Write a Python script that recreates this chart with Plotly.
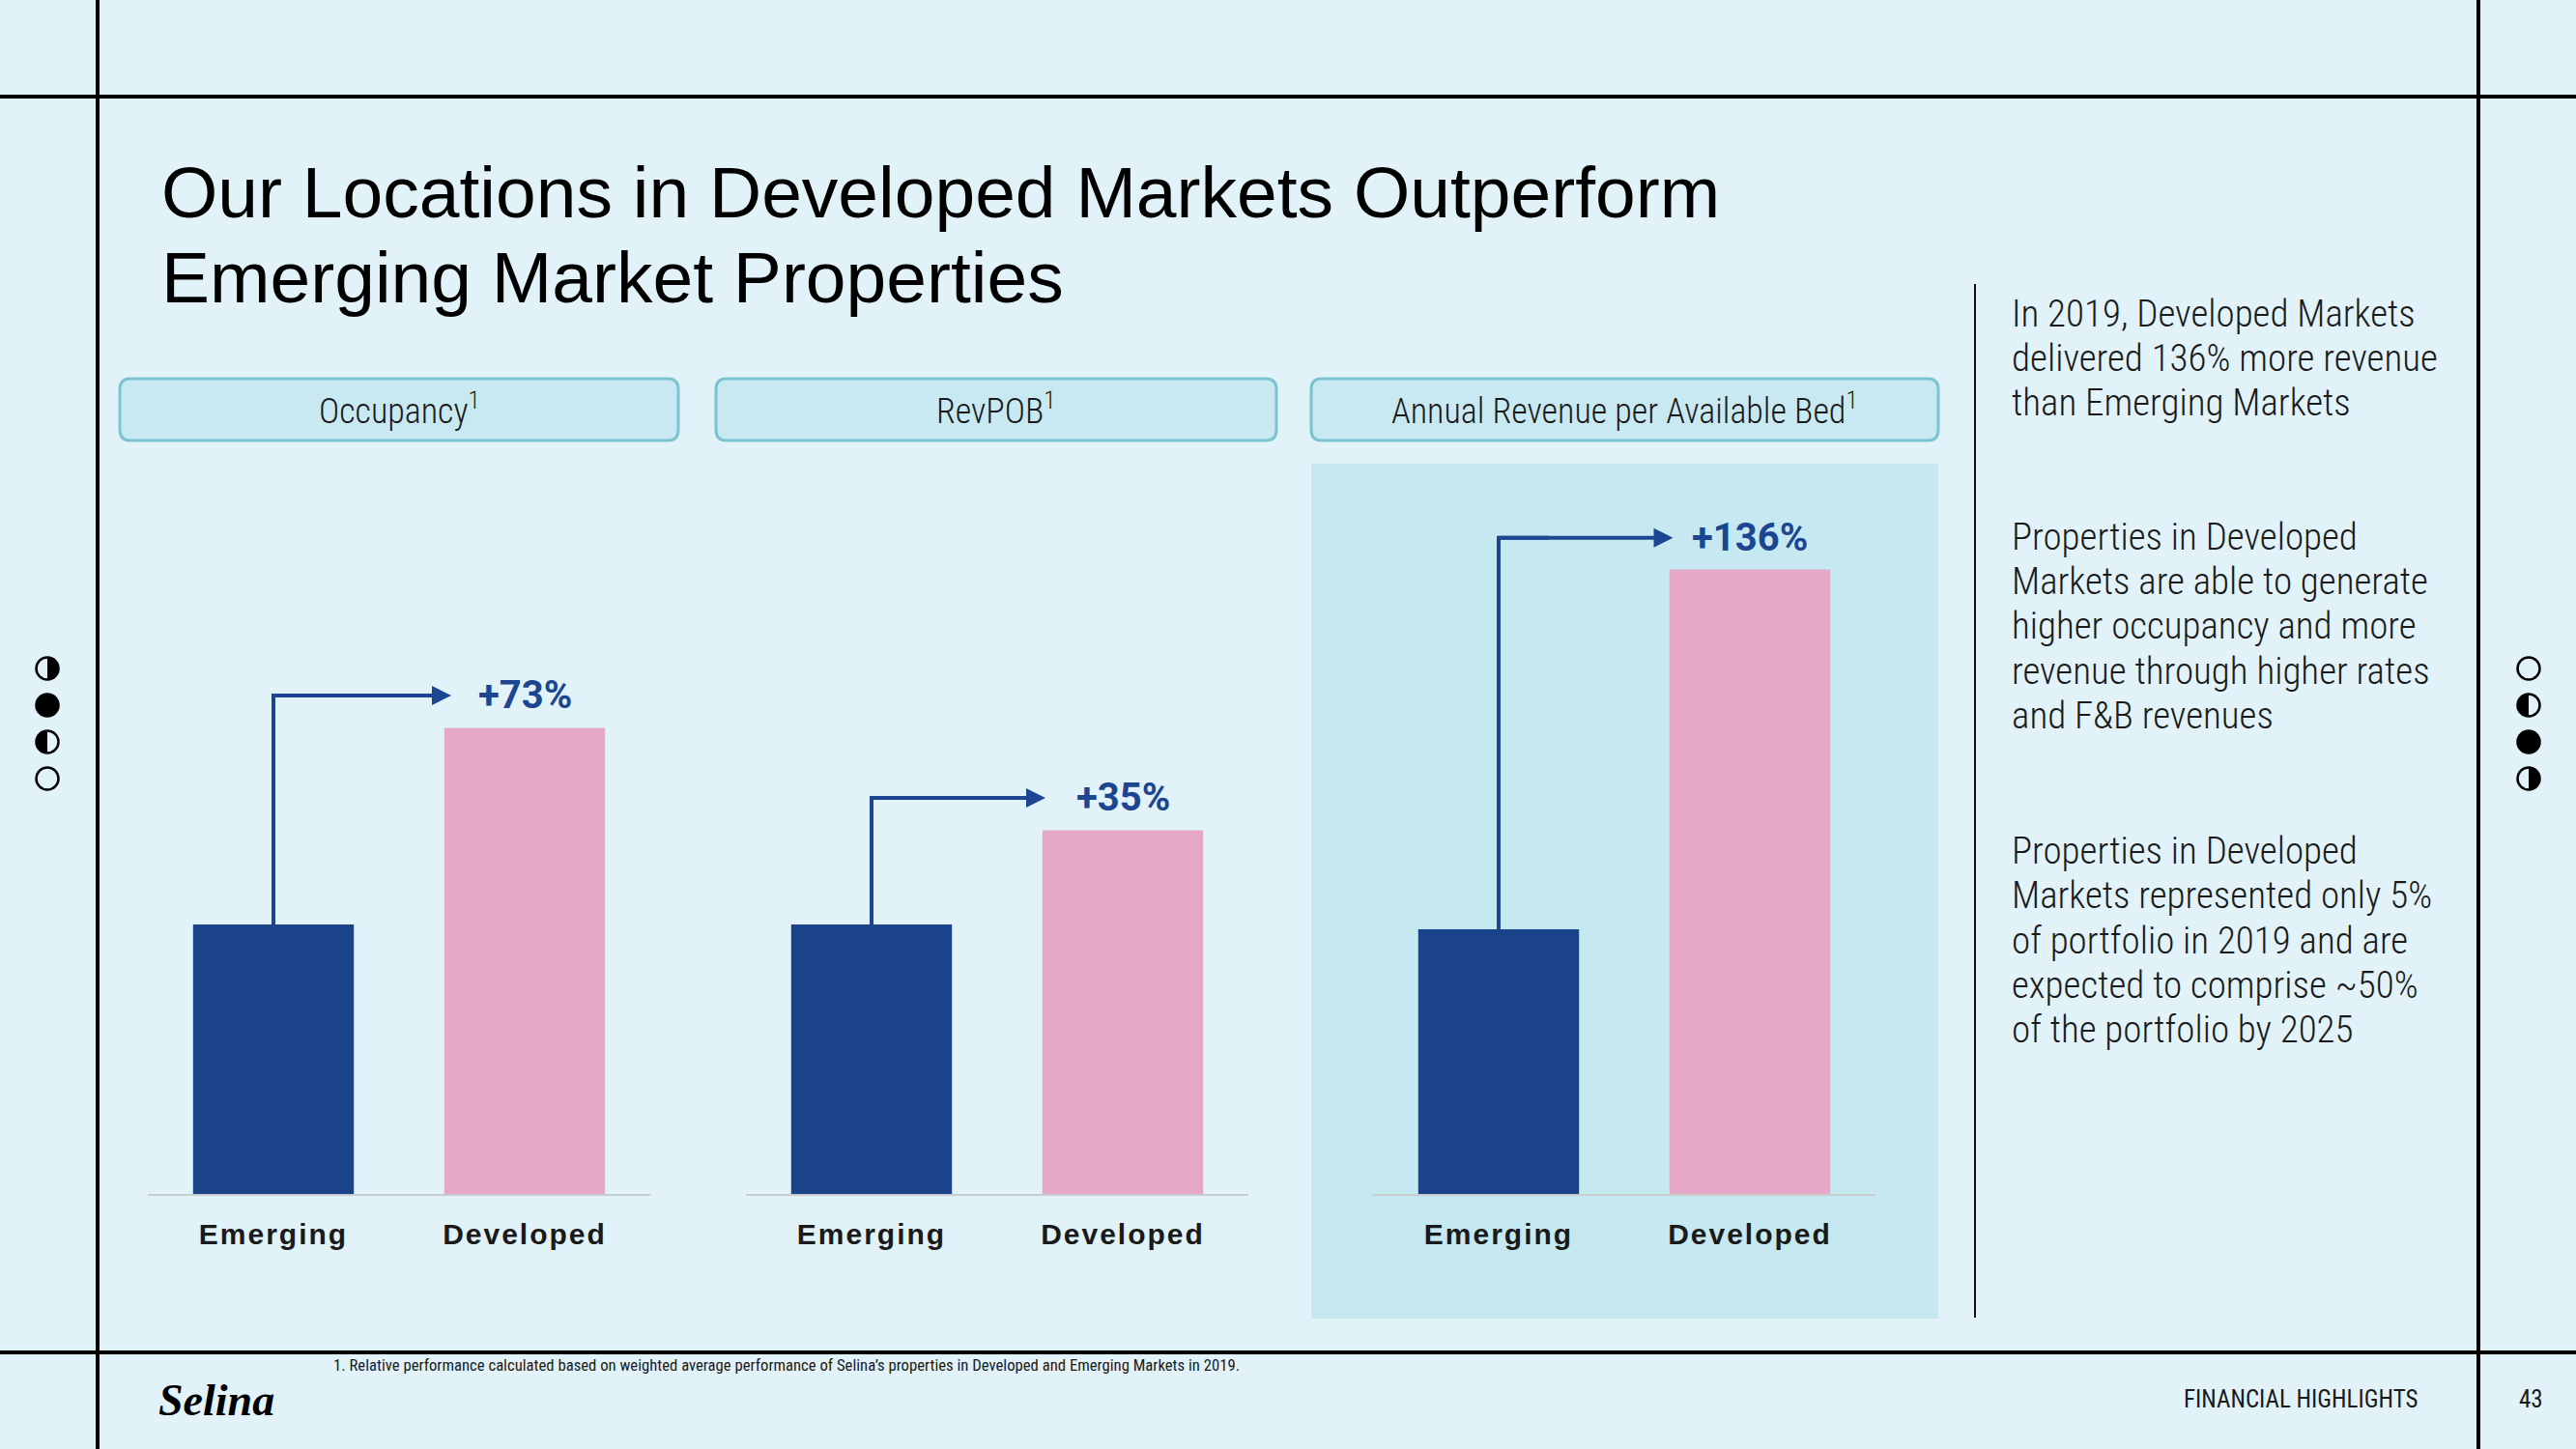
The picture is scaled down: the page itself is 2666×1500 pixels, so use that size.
import plotly.graph_objects as go

# ---------------- data ----------------
categories = ["Emerging", "Developed"]
panel_titles = ["Occupancy", "RevPOB", "Annual Revenue per Available Bed"]
# relative index values (Emerging = 100)
emerging_values = [100, 100, 100]
developed_values = [173, 135, 236]
change_labels = ["+73%", "+35%", "+136%"]

title_lines = ["Our Locations in Developed Markets Outperform", "Emerging Market Properties"]
side_paragraphs = [
    ["In 2019, Developed Markets", "delivered 136% more revenue", "than Emerging Markets"],
    ["Properties in Developed", "Markets are able to generate", "higher occupancy and more",
     "revenue through higher rates", "and F&amp;B revenues"],
    ["Properties in Developed", "Markets represented only 5%", "of portfolio in 2019 and are",
     "expected to comprise ~50%", "of the portfolio by 2025"],
]
footnote = ("1. Relative performance calculated based on weighted average performance of "
            "Selina’s properties in Developed and Emerging Markets in 2019.")
section_label = "FINANCIAL HIGHLIGHTS"
page_number = "43"
brand = "Selina"

# ---------------- style ----------------
W, H = 2666, 1500
BG = "#e1f3f8"
HILITE = "#c5e8f1"
BOX_FILL = "#c8e9f1"
BOX_LINE = "#7cc4d1"
BLUE = "#1b4389"
PINK = "#e6a8c8"
ARROW = "#1d4691"
TXT = "#1a1a1a"
COND = "Roboto Condensed, Roboto, sans-serif"


def X(px):
    return px / W


def Y(py):
    return 1 - py / H


# panel geometry in pixels
panel_x = [(153, 673), (772, 1292), (1421, 1941)]
plot_top, plot_bottom = 480, 1236
y_ranges = [271, 271, 276]
header_boxes = [(124, 702), (741, 1321), (1357, 2006)]
arrow_gaps = [26, 30, 18]
bar_w = 0.64

fig = go.Figure()
shapes = []
annotations = []

for i in range(3):
    ax_id = "" if i == 0 else str(i + 1)
    xa, ya = "x" + ax_id, "y" + ax_id
    fig.add_trace(go.Bar(
        x=[0, 1], y=[emerging_values[i], developed_values[i]],
        marker=dict(color=[BLUE, PINK], line=dict(width=0)),
        width=bar_w, xaxis=xa, yaxis=ya, hoverinfo="skip", showlegend=False,
    ))
    arrow_y = developed_values[i] + 12
    # elbow connector (vertical part + corner)
    fig.add_trace(go.Scatter(
        x=[0, 0, 0.2], y=[emerging_values[i], arrow_y, arrow_y],
        mode="lines", line=dict(color=ARROW, width=4), xaxis=xa, yaxis=ya,
        hoverinfo="skip", showlegend=False,
    ))
    # label with arrow pointing to it
    annotations.append(dict(
        x=0, y=arrow_y, ax=1, ay=arrow_y, xref=xa, yref=ya, axref=xa, ayref=ya,
        text="<b>" + change_labels[i] + "</b>", showarrow=True,
        arrowside="start", startarrowhead=2, startarrowsize=1, arrowwidth=4,
        arrowcolor=ARROW, standoff=0, startstandoff=arrow_gaps[i],
        xanchor="center", yanchor="middle",
        font=dict(family="Roboto, sans-serif", size=40, color=ARROW),
    ))
    x0, x1 = panel_x[i]
    fig.update_layout(**{
        "xaxis" + ax_id: dict(
            domain=[X(x0), X(x1)], range=[-0.5, 1.5], anchor=ya,
            tickvals=[0, 1],
            ticktext=['<span style="letter-spacing:2px">' + c + "</span>" for c in categories],
            tickfont=dict(family="Liberation Sans, Arial, sans-serif", size=30, color=TXT, weight="bold"),
            showline=True, linecolor="#c9cdd0", linewidth=2, ticks="",
            ticklabelstandoff=14,
            showgrid=False, zeroline=False, fixedrange=True,
        ),
        "yaxis" + ax_id: dict(
            domain=[Y(plot_bottom), Y(plot_top)], range=[0, y_ranges[i]], anchor=xa,
            showgrid=False, zeroline=False, showticklabels=False, showline=False,
            fixedrange=True,
        ),
    })

# ---------- decorative shapes (paper / pixel positions) ----------
shapes.append(dict(type="rect", xref="paper", yref="paper", x0=X(1357), x1=X(2006),
                   y0=Y(1365), y1=Y(480), fillcolor=HILITE, line=dict(width=0), layer="below"))


def rounded_rect(x0, y0, x1, y1, r):
    pts = [
        f"M{X(x0 + r)},{Y(y0)}", f"L{X(x1 - r)},{Y(y0)}", f"Q{X(x1)},{Y(y0)} {X(x1)},{Y(y0 + r)}",
        f"L{X(x1)},{Y(y1 - r)}", f"Q{X(x1)},{Y(y1)} {X(x1 - r)},{Y(y1)}",
        f"L{X(x0 + r)},{Y(y1)}", f"Q{X(x0)},{Y(y1)} {X(x0)},{Y(y1 - r)}",
        f"L{X(x0)},{Y(y0 + r)}", f"Q{X(x0)},{Y(y0)} {X(x0 + r)},{Y(y0)}", "Z",
    ]
    return " ".join(pts)


for i, (bx0, bx1) in enumerate(header_boxes):
    shapes.append(dict(type="path", xref="paper", yref="paper",
                       path=rounded_rect(bx0, 392, bx1, 456, 11),
                       fillcolor=BOX_FILL, line=dict(color=BOX_LINE, width=3), layer="below"))
    annotations.append(dict(
        x=X((bx0 + bx1) / 2), y=Y(424), xref="paper", yref="paper",
        text=panel_titles[i] + "<sup>1</sup>", showarrow=False, xanchor="center", yanchor="middle",
        font=dict(family=COND, size=36, color=TXT, weight=300),
    ))

# frame lines
LINE = dict(color="#000000", width=4)
shapes += [
    dict(type="line", xref="paper", yref="paper", x0=0, x1=1, y0=Y(100), y1=Y(100), line=LINE),
    dict(type="line", xref="paper", yref="paper", x0=0, x1=1, y0=Y(1400), y1=Y(1400), line=LINE),
    dict(type="line", xref="paper", yref="paper", x0=X(101), x1=X(101), y0=0, y1=1, line=LINE),
    dict(type="line", xref="paper", yref="paper", x0=X(2565), x1=X(2565), y0=0, y1=1, line=LINE),
    dict(type="line", xref="paper", yref="paper", x0=X(2044), x1=X(2044), y0=Y(294), y1=Y(1364),
         line=dict(color="#111111", width=2)),
]

# moon-phase icons
K = 0.5523


def half_disc(cx, cy, r, side):
    s = 1 if side == "right" else -1
    p = [
        f"M{X(cx)},{Y(cy - r)}",
        f"C{X(cx + s * K * r)},{Y(cy - r)} {X(cx + s * r)},{Y(cy - K * r)} {X(cx + s * r)},{Y(cy)}",
        f"C{X(cx + s * r)},{Y(cy + K * r)} {X(cx + s * K * r)},{Y(cy + r)} {X(cx)},{Y(cy + r)}",
        "Z",
    ]
    return " ".join(p)


def moon(cx, cy, kind, r=11.5):
    out = []
    if kind == "full":
        out.append(dict(type="circle", xref="paper", yref="paper", x0=X(cx - r), x1=X(cx + r),
                        y0=Y(cy + r), y1=Y(cy - r), fillcolor="#000000", line=dict(color="#000000", width=2.5)))
        return out
    if kind in ("right", "left"):
        out.append(dict(type="path", xref="paper", yref="paper", path=half_disc(cx, cy, r, kind),
                        fillcolor="#000000", line=dict(width=0)))
    out.append(dict(type="circle", xref="paper", yref="paper", x0=X(cx - r), x1=X(cx + r),
                    y0=Y(cy + r), y1=Y(cy - r), fillcolor="rgba(0,0,0,0)",
                    line=dict(color="#000000", width=2.5)))
    return out


icon_y = [692, 730, 768, 806]
left_icons = ["right", "full", "left", "empty"]
right_icons = ["empty", "left", "full", "right"]
for yy, k in zip(icon_y, left_icons):
    shapes += moon(49, yy, k)
for yy, k in zip(icon_y, right_icons):
    shapes += moon(2617, yy, k)

# ---------- texts ----------
for j, (line, yy) in enumerate(zip(title_lines, [199, 287])):
    annotations.append(dict(
        x=X(165), y=Y(yy), xref="paper", yref="paper", text=line, showarrow=False,
        xanchor="left", yanchor="middle",
        font=dict(family="Liberation Sans, Arial, sans-serif", size=75, color="#000000"),
    ))

para_y = [[325, 371, 417], [556, 602, 648, 695, 741], [881, 927, 974, 1020, 1066]]
for para, ys in zip(side_paragraphs, para_y):
    for line, yy in zip(para, ys):
        annotations.append(dict(
            x=X(2080), y=Y(yy), xref="paper", yref="paper", text=line, showarrow=False,
            xanchor="left", yanchor="middle",
            font=dict(family=COND, size=39, color=TXT, weight=300),
        ))

annotations.append(dict(
    x=X(343), y=Y(1413), xref="paper", yref="paper", text=footnote, showarrow=False,
    xanchor="left", yanchor="middle", font=dict(family=COND, size=16.7, color=TXT),
))
annotations.append(dict(
    x=X(224), y=Y(1449), xref="paper", yref="paper", text="<b><i>" + brand + "</i></b>",
    showarrow=False, xanchor="center", yanchor="middle",
    font=dict(family="Liberation Serif, serif", size=46, color="#000000"),
))
annotations.append(dict(
    x=X(2381), y=Y(1448), xref="paper", yref="paper", text=section_label, showarrow=False,
    xanchor="center", yanchor="middle", font=dict(family=COND, size=25, color=TXT),
))
annotations.append(dict(
    x=X(2619), y=Y(1448), xref="paper", yref="paper", text=page_number, showarrow=False,
    xanchor="center", yanchor="middle", font=dict(family=COND, size=25, color=TXT),
))

fig.update_layout(
    width=W, height=H, autosize=False,
    margin=dict(l=0, r=0, t=0, b=0, pad=0),
    paper_bgcolor=BG, plot_bgcolor="rgba(0,0,0,0)",
    shapes=shapes, annotations=annotations, bargap=0.36,
    showlegend=False,
)
fig.write_html("out.html", config={"displayModeBar": False})
